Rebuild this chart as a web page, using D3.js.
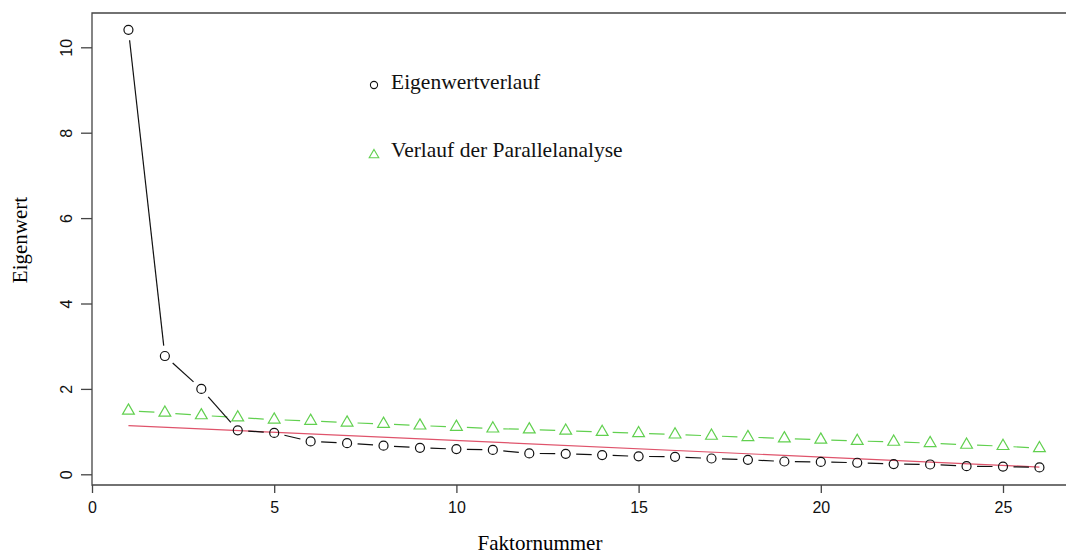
<!DOCTYPE html>
<html>
<head>
<meta charset="utf-8">
<script src="https://cdn.jsdelivr.net/npm/d3@7"></script>
<style>
    body { margin: 0; background: #fff; }
    svg { display: block; }
</style>
</head>
<body>
<svg id="chart" width="1066" height="554"></svg>
<script>
// values
var factors = d3.range(1, 27);
var eigenvalues = [10.41, 2.77, 2.00, 1.03, 0.97, 0.77, 0.73, 0.67, 0.62, 0.59, 0.57, 0.49, 0.48,
    0.45, 0.42, 0.41, 0.37, 0.34, 0.30, 0.29, 0.27, 0.24, 0.23, 0.19, 0.18, 0.16];
var parallel = [1.49, 1.44, 1.38, 1.33, 1.28, 1.25, 1.21, 1.18, 1.14, 1.11, 1.07, 1.05, 1.02,
    0.99, 0.96, 0.93, 0.90, 0.87, 0.84, 0.81, 0.78, 0.76, 0.73, 0.69, 0.66, 0.61];
var fitLine = [[1, 1.14], [26, 0.17]];
var xTicks = [0, 5, 10, 15, 20, 25];
var yTicks = [0, 2, 4, 6, 8, 10];
var legendLabels = ['Eigenwertverlauf', 'Verlauf der Parallelanalyse'];

var svg = d3.select('#chart');

var x = d3.scaleLinear().domain([0, 25]).range([92, 1003]);
var y = d3.scaleLinear().domain([0, 10]).range([474.3, 47.3]);

// plot box edges
var boxLeft = 92, boxRight = 1066, boxTop = 13, boxBottom = 485;
var serif = '"Liberation Serif", "Times New Roman", serif';
var sans = '"Liberation Sans", Arial, sans-serif';
var green = '#61D04F', red = '#DF536B';

// frame (top, left, bottom)
svg.append('path')
    .attr('d', 'M' + boxRight + ',' + boxTop + 'H' + boxLeft + 'V' + boxBottom + 'H' + boxRight)
    .attr('fill', 'none')
    .attr('stroke', '#444')
    .attr('stroke-width', 1.3);

// x axis
var xAxis = svg.append('g')
    .attr('transform', 'translate(0,' + boxBottom + ')')
    .call(d3.axisBottom(x).tickValues(xTicks).tickSize(8).tickPadding(9).tickSizeOuter(0))
    .attr('font-size', 16)
    .attr('font-family', sans);
xAxis.select('.domain').remove();
xAxis.selectAll('line').attr('stroke', '#444').attr('stroke-width', 1.3);
xAxis.selectAll('text').attr('font-size', 16).attr('fill', '#111');

// y axis, labels turned like in R
var yAxis = svg.append('g')
    .attr('transform', 'translate(' + boxLeft + ',0)')
    .call(d3.axisLeft(y).tickValues(yTicks).tickSize(11).tickSizeOuter(0))
    .attr('font-size', 16)
    .attr('font-family', sans);
yAxis.select('.domain').remove();
yAxis.selectAll('line').attr('stroke', '#444').attr('stroke-width', 1.3);
yAxis.selectAll('text')
    .attr('x', 0).attr('dy', null)
    .attr('transform', 'translate(-26,0) rotate(-90)')
    .attr('text-anchor', 'middle')
    .attr('dominant-baseline', 'central')
    .attr('font-size', 16).attr('fill', '#111');

// axis titles
svg.append('text')
    .attr('x', 540).attr('y', 550)
    .attr('text-anchor', 'middle')
    .style('font-family', serif).style('font-size', '21px')
    .text('Faktornummer');
svg.append('text')
    .attr('transform', 'translate(27,240) rotate(-90)')
    .attr('text-anchor', 'middle')
    .style('font-family', serif).style('font-size', '21px')
    .text('Eigenwert');

// red reference line
svg.append('path')
    .datum(fitLine)
    .attr('d', d3.line().x(function (d) { return x(d[0]) }).y(function (d) { return y(d[1]) }))
    .attr('stroke', red)
    .attr('stroke-width', 1.2)
    .attr('fill', 'none');

// type="b" lines: segments with a gap around each point
function gapSegments(values, gap) {
    var segs = [];
    for (var i = 0; i < values.length - 1; i++) {
        var x1 = x(factors[i]), y1 = y(values[i]),
            x2 = x(factors[i + 1]), y2 = y(values[i + 1]);
        var len = Math.sqrt((x2 - x1) * (x2 - x1) + (y2 - y1) * (y2 - y1));
        if (len <= 2 * gap) continue;
        var ux = (x2 - x1) / len, uy = (y2 - y1) / len;
        segs.push({x1: x1 + ux * gap, y1: y1 + uy * gap, x2: x2 - ux * gap, y2: y2 - uy * gap});
    }
    return segs;
}

function drawSegments(values, color) {
    svg.append('g').selectAll('line')
        .data(gapSegments(values, 10.5))
        .enter().append('line')
        .attr('x1', function (d) { return d.x1 })
        .attr('y1', function (d) { return d.y1 })
        .attr('x2', function (d) { return d.x2 })
        .attr('y2', function (d) { return d.y2 })
        .attr('stroke', color)
        .attr('stroke-width', 1.2);
}

drawSegments(parallel, green);
drawSegments(eigenvalues, '#111');

var tri = d3.symbol().type(d3.symbolTriangle).size(60);

svg.append('g').selectAll('path')
    .data(parallel)
    .enter().append('path')
    .attr('d', tri)
    .attr('transform', function (d, i) { return 'translate(' + x(factors[i]) + ',' + y(d) + ')' })
    .attr('fill', 'none')
    .attr('stroke', green)
    .attr('stroke-width', 1.2);

svg.append('g').selectAll('circle')
    .data(eigenvalues)
    .enter().append('circle')
    .attr('cx', function (d, i) { return x(factors[i]) })
    .attr('cy', function (d) { return y(d) })
    .attr('r', 4.5)
    .attr('fill', 'none')
    .attr('stroke', '#111')
    .attr('stroke-width', 1.2);

// legend
var legend = svg.append('g');
legend.append('circle')
    .attr('cx', 374).attr('cy', 85).attr('r', 3.6)
    .attr('fill', 'none').attr('stroke', '#111').attr('stroke-width', 1.1);
legend.append('path')
    .attr('d', d3.symbol().type(d3.symbolTriangle).size(40))
    .attr('transform', 'translate(374,155)')
    .attr('fill', 'none').attr('stroke', green).attr('stroke-width', 1.1);
legend.selectAll('text')
    .data(legendLabels)
    .enter().append('text')
    .attr('x', 391)
    .attr('y', function (d, i) { return i === 0 ? 89 : 157 })
    .style('font-family', serif).style('font-size', '21.5px')
    .attr('fill', '#111')
    .text(function (d) { return d });
</script>
</body>
</html>
